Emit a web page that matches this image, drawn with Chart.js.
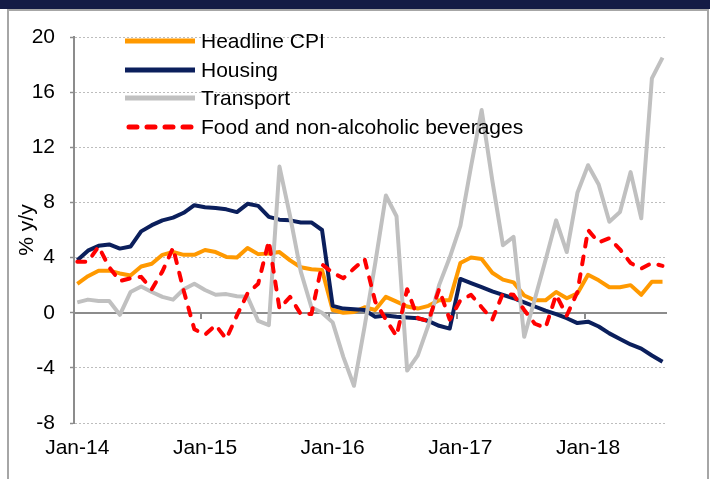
<!DOCTYPE html>
<html>
<head>
<meta charset="utf-8">
<script src="https://cdn.jsdelivr.net/npm/chart.js@4.4.1/dist/chart.umd.min.js"></script>
<style>
  html, body { margin: 0; padding: 0; background: #fff; }
  #wrap { position: relative; width: 710px; height: 479px; overflow: hidden; font-family: "Liberation Sans", Arial, sans-serif; }
  #band { position: absolute; left: 0; top: 0; width: 710px; height: 9px; background: #141b45; }
  #frame { position: absolute; left: 7px; top: 9px; width: 698px; height: 490px; border: 2px solid #a6a6a6; border-bottom: none; }
  #cpiChart { position: absolute; left: 0; top: 0; }
  #legend { position: absolute; left: 125px; top: 27px; }
  .row { display: flex; align-items: center; height: 28.6px; font-size: 21px; color: #000; white-space: nowrap; }
  .row svg { margin-right: 4px; }
</style>
</head>
<body>
<div id="wrap">
  <div id="band"></div>
  <div id="frame"></div>
  <canvas id="cpiChart" width="710" height="479"></canvas>
  <div id="legend"></div>
</div>
<script>
// Monthly y/y inflation, Jan-14 to Aug-18
const months = [
  'Jan-14','Feb-14','Mar-14','Apr-14','May-14','Jun-14','Jul-14','Aug-14','Sep-14','Oct-14','Nov-14','Dec-14',
  'Jan-15','Feb-15','Mar-15','Apr-15','May-15','Jun-15','Jul-15','Aug-15','Sep-15','Oct-15','Nov-15','Dec-15',
  'Jan-16','Feb-16','Mar-16','Apr-16','May-16','Jun-16','Jul-16','Aug-16','Sep-16','Oct-16','Nov-16','Dec-16',
  'Jan-17','Feb-17','Mar-17','Apr-17','May-17','Jun-17','Jul-17','Aug-17','Sep-17','Oct-17','Nov-17','Dec-17',
  'Jan-18','Feb-18','Mar-18','Apr-18','May-18','Jun-18','Jul-18','Aug-18'
];

const headline = [
  2.1, 2.65, 3.05, 3.05, 2.85, 2.7, 3.35, 3.55, 4.2, 4.4, 4.2, 4.2,
  4.55, 4.4, 4.05, 4.0, 4.7, 4.25, 4.3, 4.4, 3.8, 3.3, 3.15, 3.1,
  0.2, 0.0, 0.05, 0.4, 0.2, 1.15, 0.8, 0.45, 0.3, 0.5, 0.9, 0.9,
  3.6, 4.0, 3.9, 2.9, 2.4, 2.2, 1.25, 0.9, 0.9, 1.5, 1.05, 1.4,
  2.75, 2.35, 1.85, 1.85, 2.0, 1.3, 2.25, 2.25
];

const housing = [
  3.8, 4.5, 4.85, 4.95, 4.65, 4.8, 5.9, 6.35, 6.7, 6.9, 7.25, 7.8,
  7.65, 7.6, 7.5, 7.3, 7.9, 7.75, 6.95, 6.75, 6.7, 6.55, 6.55, 6.0,
  0.5, 0.3, 0.25, 0.2, -0.3, -0.2, -0.3, -0.35, -0.4, -0.6, -0.95, -1.15,
  2.45, 2.15, 1.85, 1.55, 1.3, 1.05, 0.75, 0.45, 0.15, -0.1, -0.4, -0.75,
  -0.65, -1.0, -1.5, -1.9, -2.3, -2.6, -3.1, -3.55
];

const transport = [
  0.75, 0.95, 0.85, 0.85, -0.15, 1.5, 1.9, 1.5, 1.15, 0.95, 1.7, 2.1,
  1.65, 1.3, 1.35, 1.2, 1.15, -0.6, -0.9, 10.6, 7.0, 3.0, 0.4, 0.0,
  -0.7, -3.2, -5.3, -1.0, 3.6, 8.5, 7.0, -4.2, -3.1, -0.9, 2.0, 4.0,
  6.3, 10.6, 14.7, 9.6, 4.9, 5.5, -1.75, 1.0, 3.8, 6.7, 4.4, 8.7,
  10.7, 9.3, 6.6, 7.3, 10.2, 6.85, 17.0, 18.5
];

const food = [
  3.7, 3.7, 4.8, 3.3, 2.3, 2.5, 2.6, 1.7, 3.0, 4.7, 1.6, -1.2,
  -1.6, -0.9, -1.9, -0.2, 1.4, 2.1, 5.2, 0.3, 1.15, -0.1, -0.1, 3.5,
  2.9, 2.5, 3.2, 3.9, 0.8, -0.5, -1.7, 1.7, -0.4, -0.6, 1.7, -0.5,
  0.9, 1.3, 0.4, -0.5, 1.4, 1.3, 0.2, -0.8, -1.1, 1.3, -0.2, 1.5,
  6.0, 5.1, 5.4, 4.6, 3.6, 3.2, 3.6, 3.4
];

const yTicks = [-8, -4, 0, 4, 8, 12, 16, 20];
const yearTicks = months.map((m, i) => m.startsWith('Jan') ? i : null).filter(i => i !== null);

const FONT = { family: '"Liberation Sans", Arial, sans-serif', size: 21 };
const AXIS_GREY = '#8c8c8c';

const toPoints = arr => arr.map((v, i) => ({ x: i, y: v }));

const series = [
  { label: 'Headline CPI', data: headline, color: '#ff9900', dash: [], order: 4 },
  { label: 'Housing', data: housing, color: '#0b1f5c', dash: [], order: 3 },
  { label: 'Transport', data: transport, color: '#c0c0c0', dash: [], order: 2 },
  { label: 'Food and non-alcoholic beverages', data: food, color: '#ff0000', dash: [8, 10], order: 1 }
];

// zero line with the small year tick marks, drawn under the series
const zeroAxis = {
  id: 'zeroAxis',
  beforeDatasetsDraw(chart) {
    const { ctx, chartArea, scales: { x, y } } = chart;
    const y0 = Math.round(y.getPixelForValue(0));
    ctx.save();
    ctx.strokeStyle = AXIS_GREY;
    ctx.lineWidth = 2;
    ctx.beginPath();
    ctx.moveTo(chartArea.left, y0);
    ctx.lineTo(chartArea.right, y0);
    yearTicks.forEach(v => {
      const px = Math.round(x.getPixelForValue(v - 0.33));
      ctx.moveTo(px, y0);
      ctx.lineTo(px, y0 + 6);
    });
    ctx.stroke();
    ctx.restore();
  }
};

const chart = new Chart(document.getElementById('cpiChart'), {
  type: 'line',
  data: {
    datasets: series.map(s => ({
      label: s.label,
      data: toPoints(s.data),
      borderColor: s.color,
      backgroundColor: s.color,
      borderWidth: 4,
      borderDash: s.dash,
      borderCapStyle: s.dash.length ? 'round' : 'butt',
      borderJoinStyle: 'round',
      pointRadius: 0,
      tension: 0,
      order: s.order
    }))
  },
  options: {
    responsive: false,
    animation: false,
    devicePixelRatio: 1,
    layout: { padding: { left: 0, top: 37, right: 43, bottom: 0 } },
    plugins: { legend: { display: false }, tooltip: { enabled: false } },
    scales: {
      x: {
        type: 'linear',
        min: -0.31,
        max: 55.42,
        afterBuildTicks: scale => { scale.ticks = yearTicks.map(v => ({ value: v })); },
        afterFit: scale => { scale.height = 56; },
        grid: { display: false, drawTicks: false },
        border: { display: false },
        ticks: {
          font: FONT,
          color: '#000',
          padding: 13,
          maxRotation: 0,
          autoSkip: false,
          callback: v => months[v]
        }
      },
      y: {
        min: -8,
        max: 20,
        afterBuildTicks: scale => { scale.ticks = yTicks.map(v => ({ value: v })); },
        afterFit: scale => { scale.width = 74; },
        grid: {
          color: c => (c.tick && c.tick.value === 0) ? 'rgba(0,0,0,0)' : '#bdbdbd',
          lineWidth: 1,
          tickLength: 4,
          tickColor: AXIS_GREY,
          tickWidth: 1.5,
          tickBorderDash: []
        },
        border: { display: true, color: AXIS_GREY, width: 2, dash: [2, 2] },
        ticks: { font: FONT, color: '#000', padding: 15 },
        title: {
          display: true,
          text: '% y/y',
          font: FONT,
          color: '#000',
          padding: { top: 15, bottom: 0 }
        }
      }
    }
  },
  plugins: [zeroAxis]
});

// legend rows built from the chart's datasets
const legend = document.getElementById('legend');
series.forEach(s => {
  const row = document.createElement('div');
  row.className = 'row';
  const dash = s.dash.length ? `stroke-dasharray="${s.dash.join(' ')}" stroke-linecap="round"` : '';
  row.innerHTML =
    `<svg width="72" height="10"><line x1="${s.dash.length ? 4 : 0}" y1="5" x2="70" y2="5" stroke="${s.color}" stroke-width="5" ${dash}/></svg>` +
    `<span>${s.label}</span>`;
  legend.appendChild(row);
});
</script>
</body>
</html>
